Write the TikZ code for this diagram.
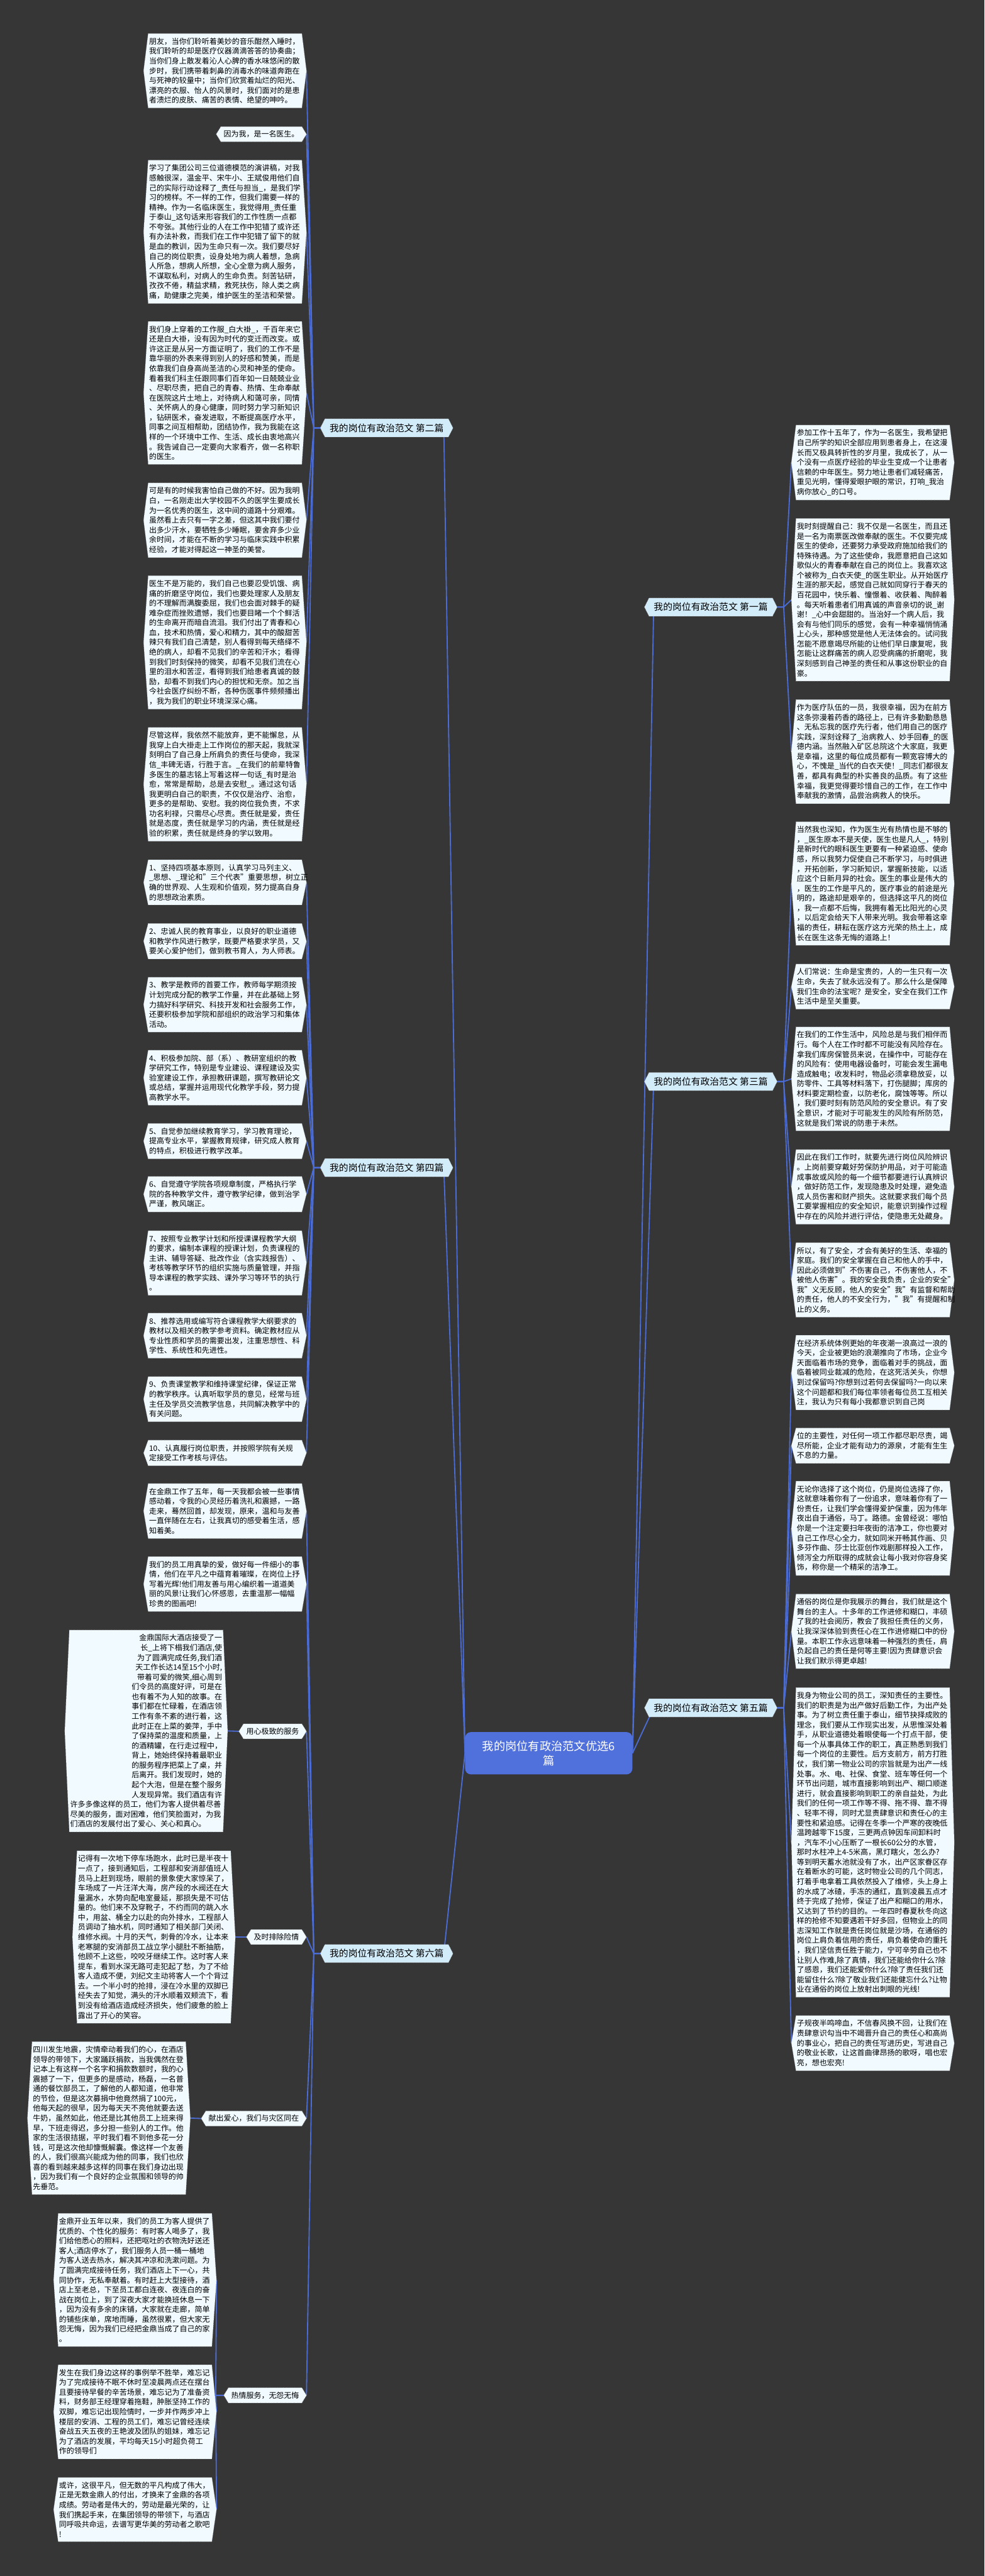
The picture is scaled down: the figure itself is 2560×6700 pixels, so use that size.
\documentclass[tikz,border=0pt]{standalone}
\usepackage{fontspec}
\setmainfont{Noto Sans CJK SC}
\usetikzlibrary{backgrounds}
\definecolor{bgdark}{RGB}{54,54,54}
\definecolor{linkblue}{RGB}{74,108,212}
\definecolor{leaffill}{RGB}{240,250,255}
\definecolor{topicfill}{RGB}{211,236,250}
\definecolor{rootblue}{RGB}{80,112,220}
\newcommand\leaffont{\fontsize{11.15pt}{14.5pt}\selectfont}
\newcommand\topicfont{\fontsize{13.8pt}{16pt}\selectfont}
\newcommand\rootfont{\fontsize{17pt}{21pt}\selectfont}
\newcommand\rr{\hspace*{0pt plus 1fill}}
\begin{document}
\begin{tikzpicture}[x=0.02cm,y=-0.02cm,
  leaf/.style={font=\leaffont,text width=7.9cm,align=left,inner xsep=0.04cm,inner ysep=0.22cm},
  tag/.style={font=\leaffont,inner xsep=0.14cm,inner ysep=0.2cm,anchor=east},
  topic/.style={font=\topicfont,inner xsep=0.24cm,inner ysep=0.24cm},
  root/.style={font=\rootfont,fill=rootblue,text=white,align=center,rounded corners=0.3cm,
    minimum width=8.7cm,minimum height=2.2cm},
  conn/.style={draw=linkblue,line width=0.06cm},
  hexframe/.style={fill=leaffill,draw=gray!70,densely dotted,line width=0.02cm},
  topicframe/.style={fill=topicfill,draw=gray!60,densely dotted,line width=0.02cm}]
\useasboundingbox (0,0) rectangle (2560,6700);
% root
\node[root] (c) at (1427,4560) {我的岗位有政治范文优选6\\篇};
% branches: left ones hang west of the root, right ones east
\foreach \b/\y/\t in {b2/1113/第二篇,b4/3037/第四篇,b6/5081/第六篇}
  \node[topic,anchor=west] (\b) at (845,\y) {我的岗位有政治范文 \t};
\foreach \b/\y/\t in {b1/1579/第一篇,b3/2813/第三篇,b5/4442/第五篇}
  \node[topic,anchor=east] (\b) at (2009,\y) {我的岗位有政治范文 \t};
% ---- 第二篇
\node[leaf,anchor=east] (l1) at (785,184) {朋友，当你们聆听着美妙的音乐酣然入睡时，\\我们聆听的却是医疗仪器滴滴答答的协奏曲；\\当你们身上散发着沁人心脾的香水味悠闲的散\\步时，我们携带着刺鼻的消毒水的味道奔跑在\\与死神的较量中；当你们欣赏着灿烂的阳光、\\漂亮的衣服、怡人的风景时，我们面对的是患\\者溃烂的皮肤、痛苦的表情、绝望的呻吟。};
\node[tag] (l2) at (785,349) {因为我，是一名医生。};
\node[leaf,anchor=east] (l3) at (785,603) {学习了集团公司三位道德模范的演讲稿，对我\\感触很深，温金平、宋牛小、王斌俊用他们自\\己的实际行动诠释了\_责任与担当\_，是我们学\\习的榜样。不一样的工作，但我们需要一样的\\精神。作为一名临床医生，我觉得用\_责任重\\于泰山\_这句话来形容我们的工作性质一点都\\不夸张。其他行业的人在工作中犯错了或许还\\有办法补救，而我们在工作中犯错了留下的就\\是血的教训，因为生命只有一次。我们要尽好\\自己的岗位职责，设身处地为病人着想，急病\\人所急，想病人所想，全心全意为病人服务，\\不谋取私利，对病人的生命负责。刻苦钻研，\\孜孜不倦，精益求精，救死扶伤，除人类之病\\痛，助健康之完美，维护医生的圣洁和荣誉。};
\node[leaf,anchor=east] (l4) at (785,1022) {我们身上穿着的工作服\_白大褂\_，千百年来它\\还是白大褂，没有因为时代的变迁而改变。或\\许这正是从另一方面证明了，我们的工作不是\\靠华丽的外表来得到别人的好感和赞美，而是\\依靠我们自身高尚圣洁的心灵和神圣的使命。\\看着我们科主任跟同事们百年如一日兢兢业业\\、尽职尽责，把自己的青春、热情、生命奉献\\在医院这片土地上，对待病人和蔼可亲，同情\\、关怀病人的身心健康，同时努力学习新知识\\，钻研医术，奋发进取，不断提高医疗水平，\\同事之间互相帮助，团结协作，我为我能在这\\样的一个环境中工作、生活、成长由衷地高兴\\。我告诫自己一定要向大家看齐，做一名称职\\的医生。};
\node[leaf,anchor=east] (l5) at (785,1353) {可是有的时候我害怕自己做的不好。因为我明\\白，一名刚走出大学校园不久的医学生要成长\\为一名优秀的医生，这中间的道路十分艰难。\\虽然看上去只有一字之差，但这其中我们要付\\出多少汗水，要牺牲多少睡眠，要舍弃多少业\\余时间，才能在不断的学习与临床实践中积累\\经验，才能对得起这一神圣的美誉。};
\node[leaf,anchor=east] (l6) at (785,1671) {医生不是万能的，我们自己也要忍受饥饿、病\\痛的折磨坚守岗位，我们也要处理家人及朋友\\的不理解而满腹委屈，我们也会面对棘手的疑\\难杂症而挫败遗憾，我们也要目睹一个个鲜活\\的生命离开而暗自流泪。我们付出了青春和心\\血，技术和热情，爱心和精力，其中的酸甜苦\\辣只有我们自己清楚，别人看得到每天络绎不\\绝的病人，却看不见我们的辛苦和汗水；看得\\到我们时刻保持的微笑，却看不见我们流在心\\里的泪水和苦涩，看得到我们给患者真诚的鼓\\励，却看不到我们内心的担忧和无奈。加之当\\今社会医疗纠纷不断，各种伤医事件频频播出\\，我为我们的职业环境深深心痛。};
\node[leaf,anchor=east] (l7) at (785,2040) {尽管这样，我依然不能放弃，更不能懈怠，从\\我穿上白大褂走上工作岗位的那天起，我就深\\刻明白了自己身上所肩负的责任与使命，我深\\信\_丰碑无语，行胜于言。\_在我们的前辈特鲁\\多医生的墓志铭上写着这样一句话\_有时是治\\愈，常常是帮助，总是去安慰\_。通过这句话\\我更明白自己的职责，不仅仅是治疗、治愈，\\更多的是帮助、安慰。我的岗位我负责，不求\\功名利禄，只需尽心尽责。责任就是爱，责任\\就是态度，责任就是学习的内涵，责任就是经\\验的积累，责任就是终身的学以致用。};
% ---- 第四篇
\node[leaf,anchor=east] (l8) at (785,2295) {1、坚持四项基本原则，认真学习马列主义、\\\_思想、\_理论和"三个代表"重要思想，树立正\\确的世界观、人生观和价值观，努力提高自身\\的思想政治素质。};
\node[leaf,anchor=east] (l9) at (785,2448) {2、忠诚人民的教育事业，以良好的职业道德\\和教学作风进行教学，既要严格要求学员，又\\要关心爱护他们，做到教书育人，为人师表。};
\node[leaf,anchor=east] (l10) at (785,2613) {3、教学是教师的首要工作，教师每学期须按\\计划完成分配的教学工作量，并在此基础上努\\力搞好科学研究、科技开发和社会服务工作，\\还要积极参加学院和部组织的政治学习和集体\\活动。};
\node[leaf,anchor=east] (l11) at (785,2803) {4、积极参加院、部（系）、教研室组织的教\\学研究工作，特别是专业建设、课程建设及实\\验室建设工作，承担教研课题，撰写教研论文\\或总结，掌握并运用现代化教学手段，努力提\\高教学水平。};
\node[leaf,anchor=east] (l12) at (785,2968) {5、自觉参加继续教育学习，学习教育理论，\\提高专业水平，掌握教育规律，研究成人教育\\的特点，积极进行教学改革。};
\node[leaf,anchor=east] (l13) at (785,3106) {6、自觉遵守学院各项规章制度，严格执行学\\院的各种教学文件，遵守教学纪律，做到治学\\严谨，教风端正。};
\node[leaf,anchor=east] (l14) at (785,3285) {7、按照专业教学计划和所授课课程教学大纲\\的要求，编制本课程的授课计划，负责课程的\\主讲、辅导答疑、批改作业（含实践报告）、\\考核等教学环节的组织实施与质量管理，并指\\导本课程的教学实践、课外学习等环节的执行\\。};
\node[leaf,anchor=east] (l15) at (785,3474) {8、推荐选用或编写符合课程教学大纲要求的\\教材以及相关的教学参考资料。确定教材应从\\专业性质和学员的需要出发，注重思想性、科\\学性、系统性和先进性。};
\node[leaf,anchor=east] (l16) at (785,3639) {9、负责课堂教学和维持课堂纪律，保证正常\\的教学秩序。认真听取学员的意见，经常与班\\主任及学员交流教学信息，共同解决教学中的\\有关问题。};
\node[leaf,anchor=east] (l17) at (785,3779) {10、认真履行岗位职责，并按照学院有关规\\定接受工作考核与评估。};
% ---- 第六篇
\node[leaf,anchor=east] (l18) at (785,3930) {在金鼎工作了五年，每一天我都会被一些事情\\感动着，令我的心灵经历着洗礼和震撼，一路\\走来，蓦然回首，却发现，原来，温和与友善\\一直伴随在左右，让我真切的感受着生活，感\\知着美。};
\node[leaf,anchor=east] (l19) at (785,4120) {我们的员工用真挚的爱，做好每一件细小的事\\情，他们在平凡之中蕴育着璀璨，在岗位上抒\\写着光辉!他们用友善与用心编织着一道道美\\丽的风景!让我们心怀感恩，去重温那一幅幅\\珍贵的图画吧!};
\node[tag] (s1) at (785,4503) {用心极致的服务};
\node[tag] (s2) at (785,5038) {及时排除险情};
\node[tag] (s3) at (785,5510) {献出爱心，我们与灾区同在};
\node[tag] (s4) at (785,6230) {热情服务，无怨无悔};
\node[leaf,anchor=east] (u1) at (580,4502) {\rr 金鼎国际大酒店接受了一\\\rr 长\_上将下榻我们酒店,使\\\rr 为了圆满完成任务,我们酒\\\rr 天工作长达14至15个小时,\\\rr 带着可爱的微笑,细心周到\\\rr 们令员的高度好评，可是在\\\rr 也有着不为人知的故事。在\\\rr 事们都在忙碌着，在酒店领\\\rr 工作有条不紊的进行着，这\\\rr 此时正在上菜的姜萍，手中\\\rr 了保持菜的温度和质量，上\\\rr 的酒精罐，在行走过程中，\\\rr 背上，她始终保持着最职业\\\rr 的服务程序把菜上了桌，并\\\rr 后离开。我们发现时，她的\\\rr 起个大泡，但是在整个服务\\\rr 人发现异常。我们酒店有许\\许多多像这样的员工，他们为客人提供着尽善\\尽美的服务，面对困难，他们笑脸面对，为我\\们酒店的发展付出了爱心、关心和真心。};
\node[leaf,anchor=east] (u2) at (600,5038) {记得有一次地下停车场跑水，此时已是半夜十\\一点了，接到通知后，工程部和安消部值班人\\员马上赶到现场，眼前的景象使大家惊呆了，\\车场成了一片汪洋大海，房产段的水阀还在大\\量漏水，水势向配电室曼延，那损失是不可估\\量的。他们来不及穿靴子，不约而同的跳入水\\中，用盆、桶全力以赴的向外排水，工程部人\\员调动了抽水机，同时通知了相关部门关闭、\\维修水阀。十月的天气，刺骨的冷水，让本来\\老寒腿的安消部员工战立学小腿肚不断抽筋，\\他顾不上这些，咬咬牙继续工作。这时客人来\\提车，看到水深无路可走犯起了愁，为了不给\\客人造成不便，刘纪文主动将客人一个个背过\\去。一个半小时的抢排，浸在冷水里的双脚已\\经失去了知觉，满头的汗水顺着双颊流下，看\\到没有给酒店造成经济损失，他们疲惫的脸上\\露出了开心的笑容。};
\node[leaf,anchor=east] (u3) at (483,5509) {四川发生地震，灾情牵动着我们的心，在酒店\\领导的带领下，大家踊跃捐款，当我偶然在登\\记本上有这样一个名字和捐款数额时，我的心\\震撼了一下，但更多的是感动，杨磊，一名普\\通的餐饮部员工，了解他的人都知道，他非常\\的节俭，但是这次募捐中他竟然捐了100元，\\他每天起的很早，因为每天天不亮他就要去送\\牛奶，虽然如此，他还是比其他员工上班来得\\早，下班走得迟，多分担一些别人的工作。他\\家的生活很拮据，平时我们看不到他多花一分\\钱，可是这次他却慷慨解囊。像这样一个友善\\的人，我们很高兴能成为他的同事，我们也欣\\喜的看到越来越多这样的同事在我们身边出现\\，因为我们有一个良好的企业氛围和领导的帅\\先垂范。};
\node[leaf,anchor=east] (h1) at (551,5930) {金鼎开业五年以来，我们的员工为客人提供了\\优质的、个性化的服务：有时客人喝多了，我\\们给他悉心的照料，还把呕吐的衣物洗好送还\\客人;酒店停水了，我们服务人员一桶一桶地\\为客人送去热水，解决其冲凉和洗漱问题。为\\了圆满完成接待任务，我们酒店上下一心，共\\同协作，无私奉献着。有时赶上大型接待，酒\\店上至老总，下至员工都白连夜、夜连白的奋\\战在岗位上，到了深夜大家才能换班休息一下\\，因为没有多余的床铺，大家就在走廊，简单\\的铺些床单，席地而睡，虽然很累，但大家无\\怨无悔，因为我们已经把金鼎当成了自己的家\\。};
\node[leaf,anchor=east] (h2) at (551,6273) {发生在我们身边这样的事例举不胜举，难忘记\\为了完成接待不眠不休时至凌晨两点还在摆台\\且要接待早餐的辛苦场景，难忘记为了准备资\\料，财务部王经理穿着拖鞋，肿胀坚持工作的\\双脚，难忘记出现险情时，一步并作两步冲上\\楼层的安消、工程的员工们，难忘记曾经连续\\奋战五天五夜的王艳波及团队的姐妹，难忘记\\为了酒店的发展，平均每天15小时超负荷工\\作的领导们};
\node[leaf,anchor=east] (h3) at (551,6527) {或许，这很平凡，但无数的平凡构成了伟大，\\正是无数金鼎人的付出，才换来了金鼎的各项\\成绩。劳动者是伟大的，劳动是最光荣的，让\\我们携起手来，在集团领导的带领下，与酒店\\同呼吸共命运，去谱写更华美的劳动者之歌吧\\!};
% ---- 第一篇
\node[leaf,anchor=west] (r1) at (2070,1203) {参加工作十五年了，作为一名医生，我希望把\\自己所学的知识全部应用到患者身上，在这漫\\长而又极具转折性的岁月里，我成长了，从一\\个没有一点医疗经验的毕业生变成一个让患者\\信赖的中年医生。努力地让患者们减轻痛苦，\\重见光明，懂得爱眼护眼的常识，打响\_我治\\病你放心\_的口号。};
\node[leaf,anchor=west] (r2) at (2070,1560) {我时刻提醒自己：我不仅是一名医生，而且还\\是一名为南票医改做奉献的医生。不仅要完成\\医生的使命，还要努力承受政府施加给我们的\\特殊待遇。为了这些使命，我愿意把自己这如\\歌似火的青春奉献在自己的岗位上。我喜欢这\\个被称为\_白衣天使\_的医生职业。从开始医疗\\生涯的那天起，感觉自己就如同穿行于春天的\\百花园中，快乐着、憧憬着、收获着、陶醉着\\。每天听着患者们用真诚的声音亲切的说\_谢\\谢！\_心中会甜甜的。当治好一个病人后，我\\会有与他们同乐的感觉，会有一种幸福悄悄涌\\上心头，那种感觉是他人无法体会的。试问我\\怎能不愿意竭尽所能的让他们早日康复呢，我\\怎能让这群痛苦的病人忍受病痛的折磨呢，我\\深刻感到自己神圣的责任和从事这份职业的自\\豪。};
\node[leaf,anchor=west] (r3) at (2070,1955) {作为医疗队伍的一员，我很幸福，因为在前方\\这条弥漫着药香的路径上，已有许多勤勤恳恳\\、无私忘我的医疗先行者，他们用自己的医疗\\实践，深刻诠释了\_治病救人、妙手回春\_的医\\德内涵。当然融入矿区总院这个大家庭，我更\\是幸福，这里的每位成员都有一颗宽容博大的\\心，不愧是\_当代的白衣天使！\_同志们都很友\\善，都具有典型的朴实善良的品质。有了这些\\幸福，我更觉得要珍惜自己的工作，在工作中\\奉献我的激情，品尝治病救人的快乐。};
% ---- 第三篇
\node[leaf,anchor=west] (r4) at (2070,2298) {当然我也深知，作为医生光有热情也是不够的\\，\_医生原本不是天使，医生也是凡人\_，特别\\是新时代的眼科医生更要有一种紧迫感、使命\\感，所以我努力促使自己不断学习，与时俱进\\，开拓创新，学习新知识，掌握新技能，以适\\应这个日新月异的社会。医生的事业是伟大的\\，医生的工作是平凡的，医疗事业的前途是光\\明的，路途却是艰辛的，但选择这平凡的岗位\\，我一点都不后悔，我拥有着无比阳光的心灵\\，以后定会给天下人带来光明。我会带着这幸\\福的责任，耕耘在医疗这方光荣的热土上，成\\长在医生这条无悔的道路上！};
\node[leaf,anchor=west] (r5) at (2070,2566) {人们常说：生命是宝贵的，人的一生只有一次\\生命，失去了就永远没有了。那么什么是保障\\我们生命的法宝呢？是安全，安全在我们工作\\生活中是至关重要。};
\node[leaf,anchor=west] (r6) at (2070,2806) {在我们的工作生活中，风险总是与我们相伴而\\行。每个人在工作时都不可能没有风险存在。\\拿我们库房保管员来说，在操作中，可能存在\\的风险有：使用电器设备时，可能会发生漏电\\造成触电；收发料时，物品必须拿稳放妥，以\\防零件、工具等材料落下，打伤腿脚；库房的\\材料要定期检查，以防老化，腐蚀等等。所以\\，我们要时刻有防范风险的安全意识。有了安\\全意识，才能对于可能发生的风险有所防范，\\这就是我们常说的防患于未然。};
\node[leaf,anchor=west] (r7) at (2070,3087) {因此在我们工作时，就要先进行岗位风险辨识\\。上岗前要穿戴好劳保防护用品，对于可能造\\成事故或风险的每一个细节都要进行认真辨识\\，做好防范工作，发现隐患及时处理，避免造\\成人员伤害和财产损失。这就要求我们每个员\\工要掌握相应的安全知识，能意识到操作过程\\中存在的风险并进行评估，使隐患无处藏身。};
\node[leaf,anchor=west] (r8) at (2070,3329) {所以，有了安全，才会有美好的生活、幸福的\\家庭。我们的安全掌握在自己和他人的手中，\\因此必须做到"不伤害自己，不伤害他人，不\\被他人伤害"。我的安全我负责，企业的安全"\\我"义无反顾，他人的安全"我"有监督和帮助\\的责任，他人的不安全行为，"我"有提醒和制\\止的义务。};
% ---- 第五篇
\node[leaf,anchor=west] (r9) at (2070,3570) {在经济系统体例更始的年夜潮一浪高过一浪的\\今天，企业被更始的浪潮推向了市场，企业今\\天面临着市场的竞争，面临着对手的挑战，面\\临着被同业裁减的危险，在这死活关头，你想\\到过保留吗?你想到过若何去保留吗?一向以来\\这个问题都和我们每位率领者每位员工互相关\\注，我认为只有每小我都意识到自己岗};
\node[leaf,anchor=west] (r10) at (2070,3760) {位的主要性，对任何一项工作都尽职尽责，竭\\尽所能，企业才能有动力的源泉，才能有生生\\不息的力量。};
\node[leaf,anchor=west] (r11) at (2070,3975) {无论你选择了这个岗位，仍是岗位选择了你，\\这就意味着你有了一份追求，意味着你有了一\\份责任，让我们学会懂得爱护保重，因为伟年\\夜出自于通俗，马丁。路德。金曾经说：哪怕\\你是一个注定要扫年夜街的洁净工，你也要对\\自己工作尽心全力，就如同米开畅其作画、贝\\多芬作曲、莎士比亚创作戏剧那样投入工作，\\倾泻全力所取得的成就会让每小我对你容身奖\\饰，称你是一个精采的洁净工。};
\node[leaf,anchor=west] (r12) at (2070,4243) {通俗的岗位是你我展示的舞台，我们就是这个\\舞台的主人。十多年的工作进修和糊口，丰硕\\了我的社会阅历，教会了我担任责任的义务，\\让我深深体验到责任心在工作进修糊口中的份\\量。本职工作永远意味着一种强烈的责任，肩\\负起自己的责任是何等主要!因为责肆意识会\\让我们默示得更卓越!};
\node[leaf,anchor=west] (r13) at (2070,4792) {我身为物业公司的员工，深知责任的主要性。\\我们的职责是为出产做好后勤工作，为出产处\\事。为了树立责任重于泰山，细节抉择成败的\\理念，我们要从工作现实出发，从思惟深处着\\手，从职业道德处着眼使每一个打点干部，使\\每一个从事具体工作的职工，真正熟悉到我们\\每一个岗位的主要性。后方支前方，前方打胜\\仗，我们第一物业公司的宗旨就是为出产一线\\处事。水、电、社保、食堂、班车等任何一个\\环节出问题，城市直接影响到出产、糊口顺遂\\进行，就会直接影响到职工的亲自益处，为此\\我们的任何一项工作等不得、拖不得、靠不得\\、轻率不得，同时尤显责肆意识和责任心的主\\要性和紧迫感。记得在冬季一个严寒的夜晚低\\温跨越零下15度，三更两点钟因车间卸料时\\，汽车不小心压断了一根长60公分的水管，\\那时水柱冲上4-5米高，黑灯瞎火，怎么办?\\等到明天蓄水池就没有了水，出产区家眷区存\\在着断水的可能，这时物业公司的几个同志，\\打着手电拿着工具依然投入了维修，头上身上\\的水成了冰碴，手冻的通红，直到凌晨五点才\\终于完成了抢修，保证了出产和糊口的用水，\\又达到了节约的目的。一年四时春夏秋冬向这\\样的抢修不知要遇若干好多回，但物业上的同\\志深知工作就是责任岗位就是沙场，在通俗的\\岗位上肩负着信用的责任，肩负着使命的重托\\，我们坚信责任胜于能力，宁可辛劳自己也不\\让别人作难,除了真情，我们还能给你什么?除\\了感恩，我们还能爱你什么?除了责任我们还\\能留住什么?除了敬业我们还能健忘什么?让物\\业在通俗的岗位上放射出刺眼的光线!};
\node[leaf,anchor=west] (r14) at (2070,5314) {子规夜半鸣啼血，不信春风换不回，让我们在\\责肆意识勾当中不竭晋升自己的责任心和高尚\\的事业心，把自己的责任写进历史，写进自己\\的敬业长歌，让这首曲律昂扬的歌呀，唱也宏\\亮，想也宏亮!};
\begin{scope}[on background layer]
\fill[bgdark] (0,0) rectangle (2560,6700);
% root to branches
\foreach \b in {b2,b4,b6} \draw[conn] (c.west) -- ([xshift=-2.4mm]\b.east);
\foreach \b in {b1,b3,b5} \draw[conn] (c.east) -- ([xshift=2.4mm]\b.west);
% branches to leaves
\foreach \b/\ls in {b2/{l1,l2,l3,l4,l5,l6,l7},b4/{l8,l9,l10,l11,l12,l13,l14,l15,l16,l17},b6/{l18,l19,s1,s2,s3,s4}}
  \foreach \l in \ls \draw[conn] ([xshift=-2.4mm]\b.west) -- ++(-17,0) -- ([xshift=2.4mm]\l.east);
\foreach \b/\ls in {b1/{r1,r2,r3},b3/{r4,r5,r6,r7,r8},b5/{r9,r10,r11,r12,r13,r14}}
  \foreach \l in \ls \draw[conn] ([xshift=2.4mm]\b.east) -- ++(17,0) -- ([xshift=-2.4mm]\l.west);
\foreach \s/\u in {s1/u1,s2/u2,s3/u3} \draw[conn] ([xshift=-2.4mm]\s.west) -- ([xshift=2.4mm]\u.east);
\foreach \h in {h1,h2,h3} \draw[conn] ([xshift=-2.4mm]s4.west) -- ++(-21,0) -- ([xshift=2.4mm]\h.east);
% hexagon frames
\foreach \n in {l1,l2,l3,l4,l5,l6,l7,l8,l9,l10,l11,l12,l13,l14,l15,l16,l17,l18,l19,s1,s2,s3,s4,u1,u2,u3,h1,h2,h3,
    r1,r2,r3,r4,r5,r6,r7,r8,r9,r10,r11,r12,r13,r14}
  \draw[hexframe] ([xshift=-2.4mm]\n.west) -- (\n.north west) -- (\n.north east) -- ([xshift=2.4mm]\n.east)
    -- (\n.south east) -- (\n.south west) -- cycle;
\foreach \n in {b1,b2,b3,b4,b5,b6}
  \draw[topicframe] ([xshift=-2.4mm]\n.west) -- (\n.north west) -- (\n.north east) -- ([xshift=2.4mm]\n.east)
    -- (\n.south east) -- (\n.south west) -- cycle;
\end{scope}
\end{tikzpicture}
\end{document}
